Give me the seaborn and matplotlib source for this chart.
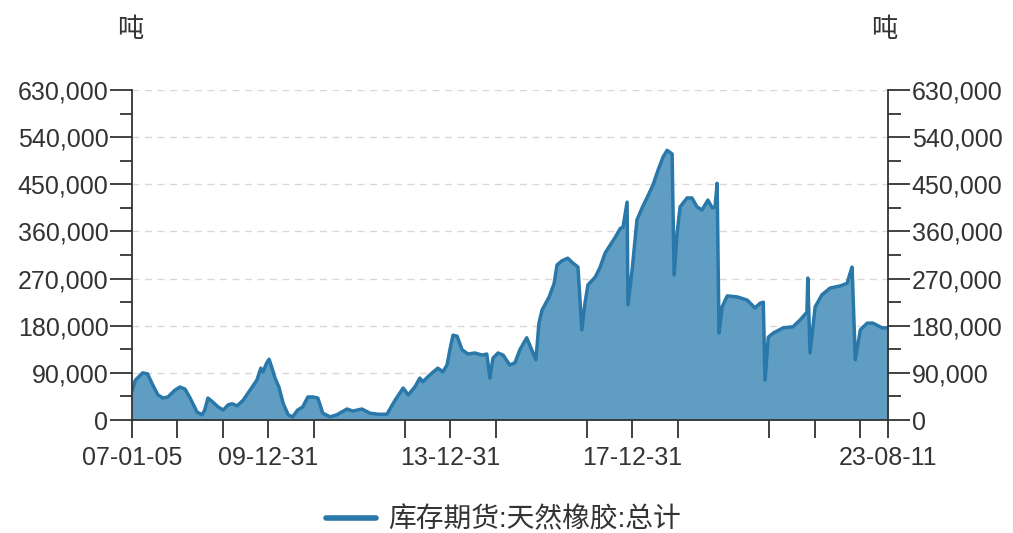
import numpy as np
import pandas as pd
import matplotlib
matplotlib.use("Agg")
import matplotlib.pyplot as plt
import matplotlib.dates as mdates
from matplotlib.ticker import FuncFormatter, MultipleLocator
from matplotlib.lines import Line2D
import seaborn as sns

# data (tonnes)
dates = [
    "2007-01-05", "2007-02-01", "2007-04-01", "2007-05-10", "2007-06-20", "2007-08-01",
    "2007-09-10", "2007-10-20", "2007-12-15", "2008-01-25", "2008-03-05", "2008-04-15",
    "2008-06-10", "2008-07-20", "2008-08-10", "2008-09-05", "2008-10-15", "2008-11-25",
    "2009-01-05", "2009-02-15", "2009-03-18", "2009-04-28", "2009-06-15", "2009-08-08",
    "2009-10-02", "2009-11-03", "2009-11-20", "2009-12-20", "2010-01-08", "2010-02-01",
    "2010-02-25", "2010-03-28", "2010-05-01", "2010-06-10", "2010-07-16", "2010-08-25",
    "2010-10-05", "2010-11-15", "2010-12-25", "2011-02-03", "2011-03-15", "2011-05-12",
    "2011-07-06", "2011-09-25", "2011-11-10", "2012-01-22", "2012-03-28", "2012-05-30",
    "2012-08-10", "2012-10-15", "2012-12-18", "2013-01-28", "2013-03-22", "2013-05-01",
    "2013-05-25", "2013-07-20", "2013-09-22", "2013-11-02", "2013-12-05", "2013-12-28",
    "2014-01-22", "2014-02-24", "2014-04-05", "2014-05-22", "2014-07-16", "2014-09-12",
    "2014-10-20", "2014-11-14", "2014-12-08", "2015-01-18", "2015-02-28", "2015-04-22",
    "2015-06-02", "2015-07-12", "2015-09-05", "2015-11-18", "2015-12-12", "2016-01-06",
    "2016-03-03", "2016-04-12", "2016-05-05", "2016-06-14", "2016-07-30", "2016-09-08",
    "2016-10-20", "2016-11-20", "2016-12-15", "2017-01-08", "2017-03-08", "2017-04-16",
    "2017-05-26", "2017-07-05", "2017-08-15", "2017-09-25", "2017-10-16", "2017-11-18",
    "2017-11-25", "2017-12-28", "2018-02-05", "2018-03-18", "2018-04-26", "2018-06-14",
    "2018-07-24", "2018-09-02", "2018-10-05", "2018-11-14", "2018-11-30", "2018-12-24",
    "2019-01-17", "2019-03-14", "2019-04-22", "2019-06-02", "2019-07-12", "2019-08-28",
    "2019-10-01", "2019-10-24", "2019-11-10", "2019-11-25", "2019-12-20", "2020-01-30",
    "2020-04-20", "2020-07-08", "2020-09-08", "2020-10-20", "2020-11-14", "2020-11-28",
    "2020-12-24", "2021-02-02", "2021-04-22", "2021-07-10", "2021-09-05", "2021-10-30",
    "2021-11-06", "2021-11-24", "2022-01-04", "2022-02-27", "2022-05-04", "2022-07-24",
    "2022-09-17", "2022-10-12", "2022-10-27", "2022-11-22", "2023-01-01", "2023-02-25",
    "2023-04-12", "2023-06-24", "2023-08-11",
]
stock = [
    55000, 76000, 90000, 88000, 67000, 48000,
    42000, 44000, 57000, 63000, 59000, 42000,
    15000, 10000, 19000, 42000, 34000, 25000,
    19000, 29000, 31000, 27000, 38000, 57000,
    76000, 99000, 92000, 109000, 116000, 99000,
    80000, 63000, 32000, 10000, 6000, 19000,
    25000, 44000, 44000, 42000, 13000, 6000,
    10000, 21000, 17000, 21000, 13000, 11000,
    11000, 38000, 61000, 48000, 63000, 80000,
    73000, 86000, 99000, 92000, 105000, 134000,
    162000, 160000, 134000, 126000, 128000, 124000,
    126000, 80000, 118000, 128000, 124000, 105000,
    109000, 134000, 157000, 115000, 185000, 210000,
    235000, 261000, 296000, 304000, 309000, 300000,
    292000, 172000, 223000, 258000, 273000, 292000,
    319000, 334000, 349000, 366000, 368000, 416000,
    220000, 286000, 382000, 405000, 424000, 449000,
    477000, 502000, 515000, 508000, 277000, 357000,
    407000, 424000, 424000, 407000, 401000, 420000,
    405000, 407000, 452000, 166000, 216000, 237000,
    235000, 229000, 214000, 223000, 225000, 76000,
    158000, 166000, 176000, 178000, 191000, 206000,
    271000, 128000, 216000, 239000, 252000, 256000,
    261000, 281000, 292000, 115000, 172000, 185000,
    185000, 176000, 176000,
]
tick_dates = [
    "2007-01-05", "2007-12-31", "2008-12-31", "2009-12-31", "2010-12-31",
    "2012-12-31", "2013-12-31", "2014-12-31", "2016-12-31", "2017-12-31",
    "2018-12-31", "2020-12-31", "2021-12-31", "2022-12-31", "2023-08-11",
]
labelled = ["2007-01-05", "2009-12-31", "2013-12-31", "2017-12-31", "2023-08-11"]
series_name = "库存期货:天然橡胶:总计"
unit = "吨"

df = pd.DataFrame({"date": pd.to_datetime(dates), "stock": stock})

sns.set_theme(style="white")
plt.rcParams["font.family"] = ["Liberation Sans", "Noto Sans CJK SC", "DejaVu Sans"]

line_color = "#2a78aa"
fill_color = "#5f9ec2"
text_color = "#333333"

fig = plt.figure(figsize=(10.13, 5.33), dpi=100)
ax = fig.add_axes([0.1303, 0.212, 0.7463, 0.619])

ax.fill_between(df["date"], df["stock"], color=fill_color, linewidth=0, zorder=2)
sns.lineplot(data=df, x="date", y="stock", ax=ax, color=line_color, linewidth=2.5, zorder=3)

ax.set_xlim(pd.Timestamp(dates[0]), pd.Timestamp(dates[-1]))
ax.set_ylim(0, 630000)
ax.set_xlabel("")
ax.set_ylabel("")

fmt = FuncFormatter(lambda v, p: f"{int(v):,}")
ax.yaxis.set_major_locator(MultipleLocator(90000))
ax.yaxis.set_minor_locator(MultipleLocator(45000))
ax.yaxis.set_major_formatter(fmt)
ax.grid(axis="y", which="major", linestyle=(0, (5, 4)), color="#d8d8d8", linewidth=1, zorder=0)
ax.set_axisbelow(True)

tk = pd.to_datetime(tick_dates)
ax.set_xticks(tk)
ax.set_xticklabels([d[2:] if d in labelled else "" for d in tick_dates])

ax2 = ax.twinx()
ax2.set_ylim(0, 630000)
ax2.yaxis.set_major_locator(MultipleLocator(90000))
ax2.yaxis.set_minor_locator(MultipleLocator(45000))
ax2.yaxis.set_major_formatter(fmt)

for a in (ax, ax2):
    for s in a.spines.values():
        s.set_color(text_color)
        s.set_linewidth(1.3)
        s.set_zorder(5)
    a.spines["top"].set_visible(False)
ax.spines["right"].set_visible(False)
ax2.spines["left"].set_visible(False)
ax2.spines["bottom"].set_visible(False)

ax.tick_params(axis="y", which="major", left=True, length=16, width=1.3, color=text_color,
               labelsize=18, labelcolor=text_color, pad=1)
ax.tick_params(axis="y", which="minor", left=True, length=9, width=1.3, color=text_color)
ax.tick_params(axis="x", which="major", bottom=True, length=13, width=1.3, color=text_color,
               labelsize=18, labelcolor=text_color, pad=6)
ax2.tick_params(axis="y", which="major", right=True, length=16, width=1.3, color=text_color,
                labelsize=18, labelcolor=text_color, pad=1)
ax2.tick_params(axis="y", which="minor", right=True, length=9, width=1.3, color=text_color)

fig.text(130 / 1013, 1 - 30 / 533, unit, fontsize=19, color=text_color, ha="center", va="center")
fig.text(884 / 1013, 1 - 30 / 533, unit, fontsize=19, color=text_color, ha="center", va="center")

handle = Line2D([0], [0], color=line_color, linewidth=4)
fig.legend([handle], [series_name], loc="center", bbox_to_anchor=(0.497, 0.024),
           frameon=False, fontsize=20, handlelength=1.8, handletextpad=0.45,
           labelcolor=text_color)

fig.savefig("out.png", dpi=100)
